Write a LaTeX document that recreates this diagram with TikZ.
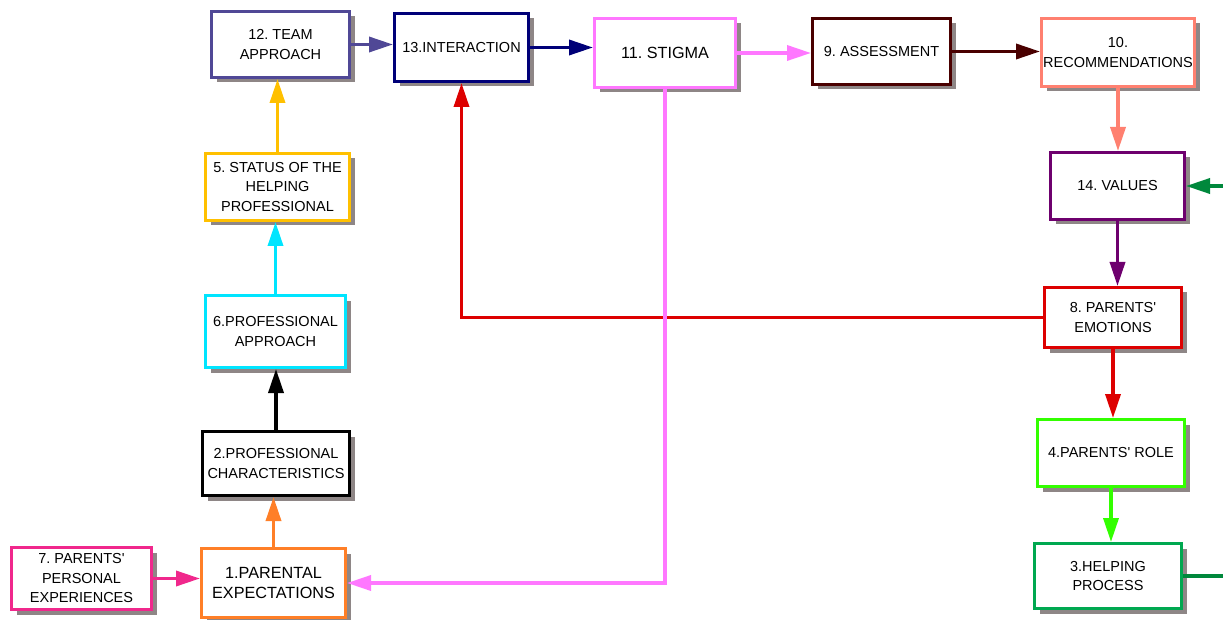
\documentclass[tikz,border=0pt]{standalone}
\usepackage{fontspec}
\newfontfamily\arial{Liberation Sans}
\usetikzlibrary{arrows.meta,shadows}
\frenchspacing

\definecolor{shadowgray}{RGB}{142,134,134}
\definecolor{cTeam}{RGB}{80,72,150}
\definecolor{cInter}{RGB}{0,0,120}
\definecolor{cStigma}{RGB}{255,119,255}
\definecolor{cAssess}{RGB}{74,0,0}
\definecolor{cRecom}{RGB}{255,128,112}
\definecolor{cValues}{RGB}{110,0,110}
\definecolor{cEmot}{RGB}{221,0,0}
\definecolor{cRole}{RGB}{51,255,0}
\definecolor{cHelp}{RGB}{0,168,80}
\definecolor{cHelpLink}{RGB}{0,136,60}
\definecolor{cPersonal}{RGB}{240,40,140}
\definecolor{cExpect}{RGB}{255,127,39}
\definecolor{cApproach}{RGB}{0,229,255}
\definecolor{cStatus}{RGB}{255,192,0}

\begin{document}
\begin{tikzpicture}[x=1pt,y=-1pt,
  box/.style={draw=#1, line width=3pt, fill=white, inner sep=0pt,
    align=center, text=black,
    font=\arial\frenchspacing\fontsize{14.5}{19.5}\selectfont,
    drop shadow={shadow xshift=5pt, shadow yshift=-5pt,
      fill=shadowgray, opacity=1}},
  bigtext/.style={font=\arial\frenchspacing\fontsize{16.2}{20}\selectfont},
  link/.style={draw=#1, line width=3.5pt,
    -{Triangle[length=24pt,width=15pt,fill=#1]}},
]
\path[use as bounding box, clip] (0,0) rectangle (1223,620);

% boxes
\node[box=cTeam, minimum width=138pt, minimum height=66pt] (b12) at (280.5,44.5) {12. TEAM\\APPROACH};
\node[box=cInter, minimum width=134pt, minimum height=68pt] (b13) at (461.5,47.5) {13.INTERACTION};
\node[box=cStigma, bigtext, minimum width=141pt, minimum height=69pt] (b11) at (665,53) {11. STIGMA};
\node[box=cAssess, minimum width=138pt, minimum height=66pt] (b9) at (881.5,51.5) {9. ASSESSMENT};
\node[box=cRecom, minimum width=153pt, minimum height=68pt] (b10) at (1118,52.5) {10.\\RECOMMENDATIONS};
\node[box=cValues, minimum width=134pt, minimum height=67pt] (b14) at (1117.5,186) {14. VALUES};
\node[box=cEmot, minimum width=137pt, minimum height=60pt] (b8) at (1113,317.5) {8. PARENTS'\\EMOTIONS};
\node[box=cRole, minimum width=147pt, minimum height=67pt] (b4) at (1111,453) {4.PARENTS' ROLE};
\node[box=cHelp, minimum width=147pt, minimum height=65pt] (b3) at (1108,576) {3.HELPING\\PROCESS};
\node[box=cPersonal, minimum width=140pt, minimum height=62pt] (b7) at (81.5,578.5) {7. PARENTS'\\PERSONAL\\EXPERIENCES};
\node[box=cExpect, bigtext, minimum width=144pt, minimum height=69pt] (b1) at (273.5,583) {1.PARENTAL\\EXPECTATIONS};
\node[box=black, minimum width=147pt, minimum height=64pt] (b2) at (276,463.5) {2.PROFESSIONAL\\CHARACTERISTICS};
\node[box=cApproach, minimum width=140pt, minimum height=72pt] (b6) at (275.5,331.5) {6.PROFESSIONAL\\APPROACH};
\node[box=cStatus, minimum width=144pt, minimum height=67pt] (b5) at (277.5,187) {5. STATUS OF THE\\HELPING\\PROFESSIONAL};

% loop that runs past the right edge
\coordinate (loopR) at (1245,0);

% connectors
\draw[link=cTeam] (b12.east) -- (b12.east -| b13.west);
\draw[link=cInter] (b13.east) -- (b13.east -| b11.west);
\draw[link=cStigma] (b11.east) -- (b11.east -| b9.west);
\draw[link=cAssess] (b9.east) -- (b9.east -| b10.west);
\draw[link=cRecom] (b10.south) -- (b10.south |- b14.north);
\draw[link=cValues] (b14.south) -- (b14.south |- b8.north);
\draw[link=cEmot] (b8.south) -- (b8.south |- b4.north);
\draw[link=cRole] (b4.south) -- (b4.south |- b3.north);
\draw[link=cEmot] (b8.west) -| (b13.south);
\draw[link=cStigma] (b11.south) |- (b1.east);
\draw[link=cPersonal] (b7.east) -- (b7.east -| b1.west);
\draw[link=cExpect] (b1.north) -- (b1.north |- b2.south);
\draw[link=black] (b2.north) -- (b2.north |- b6.south);
\draw[link=cApproach] (b6.north) -- (b6.north |- b5.south);
\draw[link=cStatus] (b5.north) -- (b5.north |- b12.south);
\draw[link=cHelpLink] (b3.east) -- (b3.east -| loopR) |- (b14.east);
\end{tikzpicture}
\end{document}
